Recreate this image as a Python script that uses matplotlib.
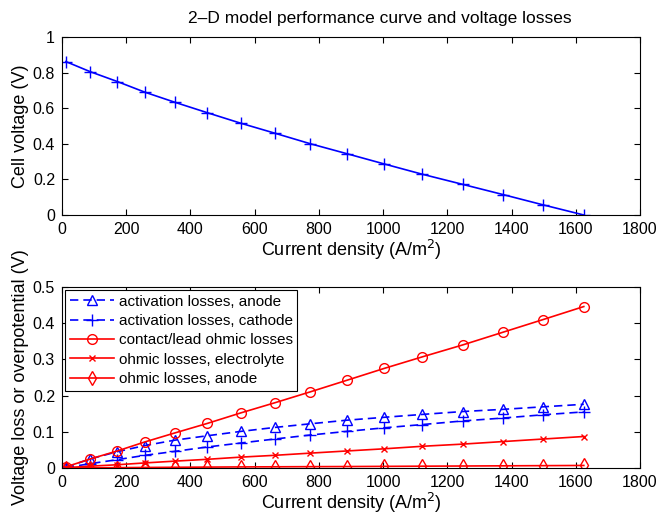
import numpy as np
import matplotlib.pyplot as plt

plt.rcParams['font.family'] = ['Liberation Sans', 'DejaVu Sans']

# current density (A/m^2) at the marker points
current = [12, 88, 172, 258, 352, 452, 556, 662, 772, 886, 1003, 1122, 1248, 1373, 1498, 1625]

cell_voltage = [0.862, 0.805, 0.750, 0.690, 0.633, 0.575, 0.516, 0.460, 0.401, 0.345,
                0.287, 0.229, 0.172, 0.115, 0.057, 0.0]

act_anode = [0.002, 0.025, 0.045, 0.062, 0.077, 0.089, 0.101, 0.112, 0.122, 0.132,
             0.140, 0.148, 0.156, 0.162, 0.169, 0.176]
act_cathode = [0.001, 0.012, 0.023, 0.035, 0.046, 0.058, 0.069, 0.080, 0.091, 0.101,
               0.111, 0.120, 0.130, 0.138, 0.147, 0.155]
contact_ohmic = [0.003, 0.025, 0.047, 0.072, 0.097, 0.123, 0.152, 0.180, 0.210, 0.242,
                 0.275, 0.307, 0.340, 0.375, 0.410, 0.446]
ohmic_electrolyte = [0.001, 0.005, 0.009, 0.014, 0.019, 0.024, 0.030, 0.035, 0.041, 0.047,
                     0.053, 0.060, 0.066, 0.073, 0.080, 0.087]
ohmic_anode = [0.0, 0.0005, 0.001, 0.0015, 0.002, 0.0025, 0.003, 0.0033, 0.0037, 0.004,
               0.0045, 0.005, 0.0055, 0.006, 0.0065, 0.007]

fig = plt.figure(figsize=(6.6, 5.21), dpi=100)
ax1 = fig.add_axes([62/660, 1 - 215/521, 578/660, 178/521])
ax2 = fig.add_axes([62/660, 1 - 468/521, 578/660, 181/521])

blue = '#0000ff'
red = '#ff0000'
dash = (5, 3)

ax1.plot(current, cell_voltage, color=blue, marker='+', markersize=8, lw=1.2)
ax1.set_xlim(0, 1800)
ax1.set_ylim(0, 1)
ax1.set_yticks([0, 0.2, 0.4, 0.6, 0.8, 1])
ax1.set_yticklabels(['0', '0.2', '0.4', '0.6', '0.8', '1'])
ax1.set_ylabel('Cell voltage (V)', fontsize=13, labelpad=3)
ax1.set_xlabel('Current density (A/m$^2$)', fontsize=13, labelpad=1)
fig.text(0.575, 1 - 19/521, '2\u2013D model performance curve and voltage losses',
         ha='center', va='center', fontsize=12.5)

ax2.plot(current, act_anode, color=blue, ls='--', dashes=dash, marker='^', markersize=7,
         mfc='none', lw=1.2, label='activation losses, anode')
ax2.plot(current, act_cathode, color=blue, ls='--', dashes=dash, marker='+', markersize=8,
         lw=1.2, label='activation losses, cathode')
ax2.plot(current, contact_ohmic, color=red, marker='o', markersize=7, mfc='none',
         lw=1.2, label='contact/lead ohmic losses')
ax2.plot(current, ohmic_electrolyte, color=red, marker='x', markersize=5,
         lw=1.2, label='ohmic losses, electrolyte')
ax2.plot(current, ohmic_anode, color=red, marker='d', markersize=7, mfc='none',
         lw=1.2, label='ohmic losses, anode')
ax2.set_xlim(0, 1800)
ax2.set_ylim(0, 0.5)
ax2.set_yticks([0, 0.1, 0.2, 0.3, 0.4, 0.5])
ax2.set_yticklabels(['0', '0.1', '0.2', '0.3', '0.4', '0.5'])
ax2.set_ylabel('Voltage loss or overpotential (V)', fontsize=13, labelpad=3)
ax2.set_xlabel('Current density (A/m$^2$)', fontsize=13, labelpad=1)
leg = ax2.legend(loc='upper left', fontsize=11, frameon=True, fancybox=False,
                 edgecolor='black', framealpha=1, borderaxespad=0.2,
                 handlelength=2.9, labelspacing=0.35, borderpad=0.3, handletextpad=0.3)
leg.get_frame().set_linewidth(0.8)

for ax in (ax1, ax2):
    ax.set_xticks(range(0, 1801, 200))
    ax.tick_params(direction='in', top=True, right=True, labelsize=11.5, length=4, pad=5)
    for s in ax.spines.values():
        s.set_linewidth(0.8)

fig.savefig('out.png', dpi=100)
